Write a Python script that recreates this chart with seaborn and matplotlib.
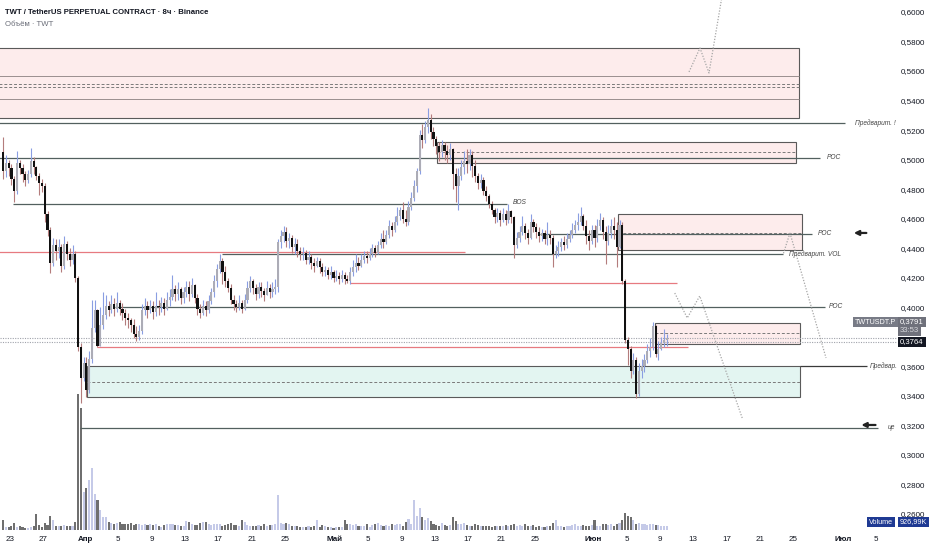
import numpy as np
import pandas as pd
import matplotlib
matplotlib.use("Agg")
import matplotlib.pyplot as plt
from matplotlib.patches import Rectangle
import seaborn as sns

# TWT/USDT perp, 8h candles from 22 Mar 00:00 (three per day)
first_open = 0.505
closes = [
    0.492, 0.498, 0.494,  0.487, 0.479, 0.498,  0.494, 0.490, 0.486,  0.490, 0.499, 0.495,  # 22-25 Mar
    0.489, 0.484, 0.482,  0.463, 0.452, 0.430,  0.442, 0.438, 0.441,  0.428, 0.443, 0.436,  # 26-29 Mar
    0.432, 0.436, 0.420,  0.373, 0.352, 0.362,  0.344, 0.365, 0.386,  0.398, 0.374, 0.388,  # 30 Mar-2 Apr
    0.395, 0.401, 0.398,  0.402, 0.399, 0.403,  0.399, 0.396, 0.393,  0.391, 0.388, 0.382,  # 3-6 Apr
    0.380, 0.384, 0.398,  0.401, 0.398, 0.401,  0.397, 0.401, 0.400,  0.403, 0.399, 0.405,  # 7-10 Apr
    0.407, 0.412, 0.409,  0.412, 0.406, 0.410,  0.414, 0.409, 0.415,  0.406, 0.399, 0.396,  # 11-14 Apr
    0.401, 0.398, 0.404,  0.410, 0.418, 0.426,  0.431, 0.424, 0.418,  0.413, 0.405, 0.402,  # 15-18 Apr
    0.400, 0.403, 0.399,  0.405, 0.413, 0.418,  0.413, 0.409, 0.414,  0.411, 0.408, 0.413,  # 19-22 Apr
    0.410, 0.412, 0.414,  0.444, 0.448, 0.451,  0.445, 0.447, 0.441,  0.443, 0.438, 0.436,  # 23-26 Apr
    0.437, 0.432, 0.434,  0.430, 0.428, 0.431,  0.427, 0.424, 0.425,  0.422, 0.424, 0.420,  # 27-30 Apr
    0.421, 0.419, 0.422,  0.419, 0.418, 0.424,  0.427, 0.430, 0.428,  0.432, 0.435, 0.433,  # 1-4 May
    0.436, 0.440, 0.437,  0.442, 0.446, 0.444,  0.449, 0.455, 0.452,  0.458, 0.462, 0.466,  # 5-8 May
    0.460, 0.458, 0.468,  0.474, 0.482, 0.492,  0.517, 0.513, 0.522,  0.527, 0.519, 0.514,  # 9-12 May
    0.509, 0.505, 0.510,  0.506, 0.503, 0.507,  0.490, 0.482, 0.489,  0.495, 0.499, 0.497,  # 13-16 May
    0.503, 0.496, 0.489,  0.484, 0.486, 0.479,  0.475, 0.470, 0.466,  0.461, 0.464, 0.459,  # 17-20 May
    0.463, 0.459, 0.465,  0.461, 0.442, 0.447,  0.451, 0.455, 0.450,  0.447, 0.458, 0.454,  # 21-24 May
    0.451, 0.448, 0.450,  0.446, 0.449, 0.447,  0.436, 0.438, 0.441,  0.444, 0.442, 0.446,  # 25-28 May
    0.449, 0.452, 0.456,  0.458, 0.462, 0.455,  0.448, 0.445, 0.452,  0.447, 0.455, 0.459,  # 29 May-1 Jun
    0.451, 0.445, 0.450,  0.455, 0.452, 0.441,  0.456, 0.418, 0.378,  0.372, 0.357, 0.364,  # 2-5 Jun
    0.341, 0.357, 0.360,  0.364, 0.370, 0.373,  0.387, 0.368, 0.372,  0.376, 0.378, 0.3791,  # 6-9 Jun
]
highs = [
    0.515, 0.503, 0.500,  0.497, 0.489, 0.506,  0.500, 0.497, 0.492,  0.493, 0.508, 0.502,
    0.496, 0.491, 0.487,  0.484, 0.465, 0.454,  0.447, 0.446, 0.446,  0.443, 0.448, 0.445,
    0.440, 0.442, 0.438,  0.421, 0.376, 0.366,  0.366, 0.370, 0.405,  0.405, 0.399, 0.400,
    0.410, 0.408, 0.404,  0.408, 0.406, 0.410,  0.405, 0.403, 0.399,  0.396, 0.393, 0.392,
    0.387, 0.388, 0.402,  0.406, 0.404, 0.405,  0.404, 0.410, 0.405,  0.407, 0.406, 0.410,
    0.412, 0.422, 0.415,  0.417, 0.414, 0.414,  0.418, 0.418, 0.420,  0.416, 0.409, 0.402,
    0.405, 0.404, 0.408,  0.413, 0.422, 0.429,  0.436, 0.433, 0.428,  0.420, 0.416, 0.408,
    0.405, 0.408, 0.405,  0.409, 0.418, 0.421,  0.419, 0.416, 0.417,  0.417, 0.413, 0.418,
    0.416, 0.417, 0.419,  0.446, 0.452, 0.455,  0.454, 0.450, 0.449,  0.447, 0.446, 0.441,
    0.441, 0.439, 0.438,  0.436, 0.433, 0.434,  0.433, 0.430, 0.428,  0.427, 0.428, 0.425,
    0.425, 0.424, 0.425,  0.424, 0.422, 0.427,  0.432, 0.436, 0.434,  0.436, 0.438, 0.438,
    0.440, 0.443, 0.442,  0.445, 0.450, 0.452,  0.452, 0.459, 0.458,  0.462, 0.468, 0.468,
    0.471, 0.466, 0.472,  0.478, 0.486, 0.494,  0.520, 0.524, 0.526,  0.535, 0.531, 0.522,
    0.516, 0.512, 0.513,  0.512, 0.510, 0.511,  0.508, 0.494, 0.494,  0.500, 0.506, 0.507,
    0.507, 0.506, 0.500,  0.491, 0.490, 0.488,  0.482, 0.477, 0.472,  0.467, 0.467, 0.466,
    0.467, 0.466, 0.470,  0.466, 0.462, 0.451,  0.455, 0.462, 0.457,  0.453, 0.463, 0.460,
    0.457, 0.454, 0.453,  0.452, 0.458, 0.452,  0.449, 0.442, 0.445,  0.447, 0.448, 0.450,
    0.452, 0.457, 0.459,  0.464, 0.468, 0.463,  0.459, 0.452, 0.456,  0.456, 0.460, 0.464,
    0.461, 0.455, 0.456,  0.460, 0.461, 0.458,  0.459, 0.458, 0.419,  0.380, 0.374, 0.369,
    0.366, 0.362, 0.365,  0.368, 0.375, 0.379,  0.390, 0.388, 0.377,  0.380, 0.385, 0.382,
]
lows = [
    0.487, 0.488, 0.489,  0.483, 0.471, 0.477,  0.490, 0.485, 0.482,  0.484, 0.488, 0.490,
    0.486, 0.476, 0.478,  0.458, 0.448, 0.423,  0.428, 0.432, 0.433,  0.424, 0.426, 0.432,
    0.428, 0.429, 0.417,  0.370, 0.335, 0.350,  0.339, 0.342, 0.362,  0.383, 0.373, 0.374,
    0.385, 0.392, 0.394,  0.396, 0.394, 0.397,  0.395, 0.391, 0.388,  0.386, 0.383, 0.379,
    0.377, 0.378, 0.382,  0.395, 0.393, 0.396,  0.392, 0.394, 0.395,  0.397, 0.395, 0.398,
    0.401, 0.405, 0.404,  0.405, 0.402, 0.403,  0.407, 0.404, 0.407,  0.403, 0.395, 0.393,
    0.395, 0.394, 0.396,  0.402, 0.407, 0.414,  0.423, 0.416, 0.414,  0.410, 0.402, 0.398,
    0.397, 0.398, 0.396,  0.398, 0.403, 0.410,  0.409, 0.405, 0.406,  0.407, 0.404, 0.408,
    0.406, 0.407, 0.409,  0.410, 0.440, 0.444,  0.441, 0.440, 0.437,  0.436, 0.434, 0.432,
    0.432, 0.429, 0.429,  0.426, 0.424, 0.427,  0.423, 0.421, 0.421,  0.419, 0.419, 0.417,
    0.418, 0.416, 0.417,  0.416, 0.4165, 0.416,  0.421, 0.424, 0.425,  0.427, 0.430, 0.430,
    0.432, 0.434, 0.434,  0.436, 0.440, 0.440,  0.443, 0.447, 0.448,  0.451, 0.456, 0.459,
    0.457, 0.455, 0.456,  0.466, 0.472, 0.478,  0.490, 0.508, 0.511,  0.518, 0.514, 0.509,
    0.504, 0.499, 0.502,  0.500, 0.498, 0.500,  0.480, 0.471, 0.466,  0.486, 0.490, 0.491,
    0.493, 0.488, 0.485,  0.480, 0.481, 0.476,  0.472, 0.467, 0.463,  0.457, 0.458, 0.455,
    0.458, 0.456, 0.457,  0.457, 0.433, 0.440,  0.444, 0.449, 0.446,  0.443, 0.446, 0.451,
    0.447, 0.444, 0.445,  0.443, 0.442, 0.443,  0.427, 0.433, 0.435,  0.438, 0.439, 0.440,
    0.444, 0.447, 0.450,  0.452, 0.456, 0.452,  0.443, 0.439, 0.443,  0.441, 0.444, 0.452,
    0.446, 0.429, 0.442,  0.447, 0.446, 0.427,  0.440, 0.416, 0.376,  0.361, 0.352, 0.355,
    0.3385, 0.340, 0.352,  0.356, 0.362, 0.366,  0.371, 0.366, 0.364,  0.371, 0.373, 0.374,
]
# volume, millions of TWT
volumes = [
    2.5, 0.8, 0.8,  0.9, 1.7, 0.8,  1.0, 0.7, 0.6,  0.6, 0.7, 1.0,
    4.0, 1.2, 0.8,  1.8, 1.2, 3.5,  2.5, 1.0, 1.0,  1.0, 1.2, 0.9,
    1.0, 1.1, 2.0,  34.0, 30.5, 9.5,  10.5, 12.5, 15.5,  9.0, 7.5, 5.0,
    3.3, 3.3, 2.0,  1.8, 1.5, 1.7,  2.0, 1.4, 1.5,  1.5, 1.7, 1.2,
    1.4, 1.6, 1.3,  1.5, 1.2, 1.6,  1.3, 1.5, 1.1,  0.8, 1.2, 1.4,
    1.5, 1.6, 1.2,  1.3, 1.1, 1.0,  2.3, 2.1, 1.5,  1.3, 1.2, 1.8,
    1.9, 1.9, 1.5,  1.2, 1.6, 1.4,  1.5, 1.1, 1.3,  1.4, 1.7, 1.2,
    1.3, 1.0, 2.4,  2.1, 1.2, 1.0,  1.1, 0.9, 1.2,  1.0, 1.4, 1.1,
    1.3, 1.2, 1.6,  8.8, 1.8, 1.5,  1.8, 1.4, 1.0,  0.9, 1.0, 0.8,
    0.7, 0.8, 0.9,  0.8, 1.0, 2.4,  0.8, 1.2, 0.9,  0.8, 0.7, 0.6,
    0.7, 0.8, 0.7,  2.5, 1.6, 1.5,  1.2, 1.4, 1.0,  0.9, 1.0, 1.5,
    0.8, 1.3, 1.6,  1.8, 1.2, 1.0,  1.3, 1.1, 1.4,  1.2, 1.5, 1.6,
    1.0, 1.9, 2.8,  1.6, 7.5, 3.5,  5.5, 3.2, 2.5,  3.0, 2.2, 1.5,
    1.2, 1.0, 1.7,  1.3, 0.9, 1.2,  3.3, 2.2, 1.4,  1.6, 1.8, 1.3,
    1.1, 1.0, 1.4,  1.2, 1.1, 0.9,  0.9, 1.0, 0.8,  1.1, 1.0, 0.9,
    0.9, 1.3, 1.0,  1.2, 1.6, 1.1,  1.2, 1.0, 1.4,  1.1, 1.0, 1.2,
    0.8, 0.9, 0.7,  0.8, 1.0, 1.1,  1.8, 2.6, 1.0,  1.0, 0.8, 1.0,
    0.9, 1.2, 1.4,  1.1, 0.9, 1.3,  0.9, 1.1, 1.3,  2.5, 1.1, 1.0,
    1.4, 1.6, 1.2,  1.4, 1.0, 1.6,  1.8, 2.6, 4.2,  3.6, 3.2, 2.4,
    1.6, 1.8, 1.5,  1.4, 1.3, 1.5,  1.4, 1.2, 1.3,  1.0, 0.9, 0.93,
]

# x axis: days counted from 22 Mar 00:00
date_ticks = [1, 5, 10, 14, 18, 22, 26, 30, 34, 40, 44, 48, 52, 56, 60, 64,
              71, 75, 79, 83, 87, 91, 95, 101, 105]
date_labels = ["23", "27", "Апр", "5", "9", "13", "17", "21", "25", "Май", "5", "9", "13",
               "17", "21", "25", "Июн", "5", "9", "13", "17", "21", "25", "Июл", "5"]
month_labels = ["Апр", "Май", "Июн", "Июл"]
price_ticks = [0.26, 0.28, 0.30, 0.32, 0.34, 0.36, 0.40, 0.42, 0.44, 0.46,
               0.48, 0.50, 0.52, 0.54, 0.56, 0.58, 0.60]
last_price = 0.3791
mark_price = 0.3764

# drawn zones: start day, end day, bottom, top, dashed middles, inner solid lines, kind
zones = [
    (-1.0, 95.7, 0.5280, 0.5754, [0.5512, 0.5490], [0.5566, 0.5409], "supply"),
    (52.26, 95.35, 0.4977, 0.5119, [0.5051], [], "supply"),
    (73.99, 96.07, 0.4388, 0.4631, [0.4503], [], "supply"),
    (78.43, 95.83, 0.3751, 0.3893, [0.3825], [], "supply"),
    (10.24, 95.83, 0.3392, 0.3602, [0.3493], [], "demand"),
]
# horizontal levels: price, start day, end day, kind, label, label day
levels = [
    (0.5248, -1.0, 101.2, "grey", "Предварит. !", 102.4),
    (0.5011, -1.0, 98.2, "grey", "POC", 99.0),
    (0.4699, 1.36, 60.7, "grey", "BOS", 61.3),
    (0.4496, 64.6, 97.3, "grey", "POC", 98.0),
    (0.4361, 26.45, 93.8, "grey", "Предварит. VOL", 94.5),
    (0.4374, -1.0, 55.6, "red", "", 0),
    (0.4164, 41.8, 81.1, "red", "", 0),
    (0.4004, 13.6, 98.8, "grey", "POC", 99.3),
    (0.3730, 11.4, 82.4, "red", "", 0),
    (0.3602, 95.83, 103.9, "dark", "Предвар.", 104.2),
    (0.3182, 9.4, 105.2, "grey", "це", 106.4),
]
# dotted projection paths
proj_path = [0, 0, 0, 0, 1, 1, 1, 1, 2, 2, 3, 3]
proj_day = [82.51, 83.83, 84.91, 86.6, 80.8, 82.3, 83.8, 88.9, 94.63, 98.96, 94.63, 93.79]
proj_price = [0.5594, 0.5756, 0.5587, 0.6149, 0.4096, 0.3927, 0.4076, 0.3249,
              0.4503, 0.3656, 0.4503, 0.4354]
# left-pointing arrows: head day, tail day, price
arrows = [(102.3, 103.8, 0.4503), (103.2, 104.9, 0.3202)]

W, H = 932, 550
UP_BODY, UP_WICK = "#acacb6", "#8a9ee2"
DN_BODY, DN_WICK = "#111111", "#b47c7c"
GREY_LINE, RED_LINE = "#52605f", "#e77a80"

n = len(closes)
df = pd.DataFrame({"open": [first_open] + closes[:-1], "high": highs, "low": lows,
                   "close": closes, "volume": volumes})
df["t"] = (np.arange(n) + 0.5) / 3
df["high"] = df[["high", "open", "close"]].max(axis=1)
df["low"] = df[["low", "open", "close"]].min(axis=1)
df["up"] = df["close"] >= df["open"]

sns.set_theme(style="white")
plt.rcParams["font.family"] = ["Liberation Sans", "DejaVu Sans"]

fig = plt.figure(figsize=(W / 100, H / 100), dpi=100)
rect = [0, 20 / H, 897 / W, 530 / H]
ax_vol = fig.add_axes(rect)
ax = fig.add_axes(rect, sharex=ax_vol)
ax.patch.set_alpha(0)

# volume
vol_colors = np.where(df["up"], "#c5cae8", "#6f6f6f")
ax_vol.bar(df["t"], df["volume"], width=0.25, color=vol_colors, linewidth=0)
ax_vol.set_ylim(0, 132.5)
ax_vol.axis("off")

# zones
for x0, x1, lo, hi, dashes, inner, kind in zones:
    fc = "#fdecec" if kind == "supply" else "#e3f5f1"
    ax.add_patch(Rectangle((x0, lo), x1 - x0, hi - lo, facecolor=fc,
                           edgecolor="#5a5a5a", linewidth=0.8, zorder=1))
    for m in dashes:
        ax.hlines(m, x0, x1, color="#7a7a7a", linewidth=0.7, linestyles=(0, (3, 2)), zorder=1.5)
    for m in inner:
        ax.hlines(m, x0, x1, color="#9a8f8f", linewidth=0.7, zorder=1.5)

# horizontal levels and their labels
for lvl, x0, x1, kind, label, lx in levels:
    col = {"grey": GREY_LINE, "red": RED_LINE, "dark": "#3a3a3a"}[kind]
    ax.hlines(lvl, x0, x1, color=col, linewidth=0.9, zorder=2)
    if label:
        dy = 0.0012 if label == "BOS" else 0
        ax.text(lx, lvl + dy, label, fontsize=4.8, style="italic", color="#444444",
                va="center", ha="left", zorder=6)

for head, tail, lvl in arrows:
    ax.annotate("", xy=(head, lvl), xytext=(tail, lvl),
                arrowprops=dict(arrowstyle="-|>", color="#222222", lw=1.6,
                                mutation_scale=7, shrinkA=0, shrinkB=0))

# current price lines
for lvl in (last_price, mark_price):
    ax.axhline(lvl, color="#a0a3ab", linewidth=0.8, linestyle=(0, (1, 1.2)), zorder=2)

# projections
proj = pd.DataFrame({"path": proj_path, "day": proj_day, "price": proj_price})
sns.lineplot(data=proj, x="day", y="price", units="path", estimator=None, sort=False,
             color="#a6a6a6", linewidth=0.9, linestyle=(0, (1, 1.3)), ax=ax, zorder=2)

# candles
up, dn = df[df["up"]], df[~df["up"]]
ax.vlines(up["t"], up["low"], up["high"], color=UP_WICK, linewidth=0.8, zorder=3)
ax.vlines(dn["t"], dn["low"], dn["high"], color=DN_WICK, linewidth=0.8, zorder=3)
ax.bar(up["t"], (up["close"] - up["open"]).clip(lower=0.0006), bottom=up["open"],
       width=0.26, color=UP_BODY, linewidth=0, zorder=4)
ax.bar(dn["t"], (dn["open"] - dn["close"]).clip(lower=0.0006), bottom=dn["close"],
       width=0.26, color=DN_BODY, linewidth=0, zorder=4)

ax.set_xlim(-0.204, 107.48)
ax.set_ylim(0.24905, 0.60813)
ax.set_xlabel("")
ax.set_ylabel("")
ax.yaxis.tick_right()
ax.set_yticks(price_ticks)
ax.set_yticklabels([f"{v:.4f}".replace(".", ",") for v in price_ticks])
ax.set_xticks(date_ticks)
ax.set_xticklabels(date_labels)
ax.tick_params(axis="y", length=0, pad=2.5, labelsize=5.8, colors="#131722")
ax.tick_params(axis="x", length=0, pad=4, labelsize=5.8, colors="#131722")
for lbl in ax.get_xticklabels():
    if lbl.get_text() in month_labels:
        lbl.set_fontweight("bold")
for s in ax.spines.values():
    s.set_visible(False)
ax.grid(False)


def px_text(x, y, text, fc, color="white", size=5.6, weight="normal"):
    fig.text(x / W, 1 - y / H, text, fontsize=size, color=color, fontweight=weight,
             ha="left", va="center",
             bbox=dict(boxstyle="square,pad=0.25", facecolor=fc, edgecolor="none"))


fig.text(5 / W, 1 - 12 / H, "TWT / TetherUS PERPETUAL CONTRACT · 8ч · Binance",
         fontsize=5.6, fontweight="bold", color="#131722", va="center")
fig.text(5 / W, 1 - 25 / H, "Объём · TWT", fontsize=5.6, color="#6a6d78", va="center")

px_text(855, 322, "TWTUSDT.P", "#787b86", size=5.2)
px_text(900, 322, "0,3791", "#6f717b")
px_text(900, 331, "33:53", "#6f717b", color="#d5d6da")
px_text(900, 342, "0,3764", "#131722")
px_text(869, 522, "Volume", "#1f3a93", size=5.2)
px_text(900, 522, "926,99K", "#1f3a93", size=5.2)

fig.savefig("out.png", dpi=100)
